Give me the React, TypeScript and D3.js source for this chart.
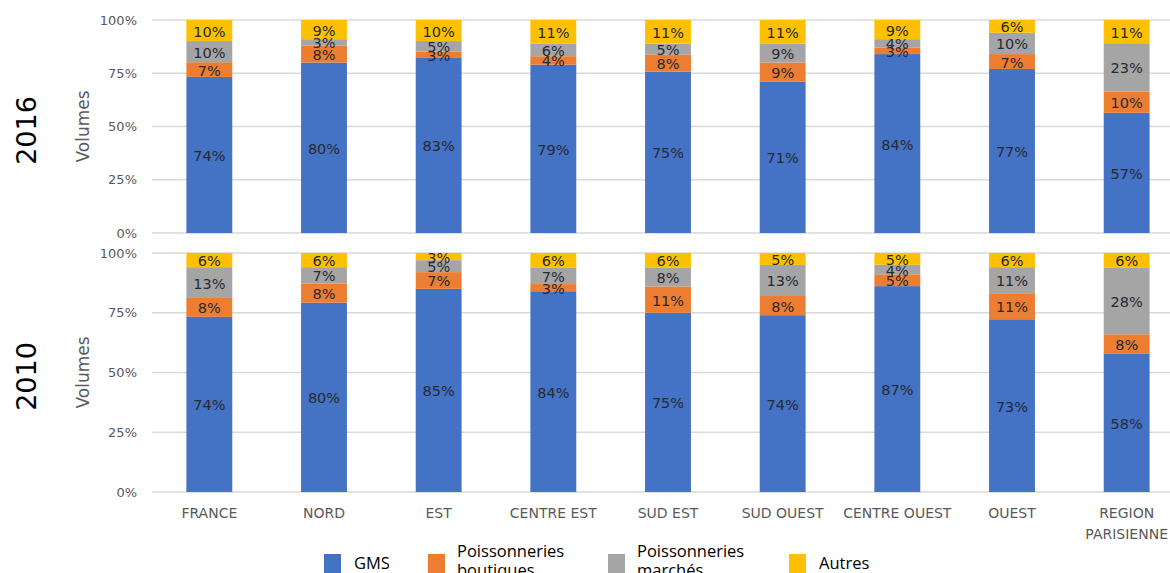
import React from "react";
import * as d3 from "d3";

const categories = ["FRANCE", "NORD", "EST", "CENTRE EST", "SUD EST", "SUD OUEST", "CENTRE OUEST", "OUEST", "REGION PARISIENNE"];
const seriesNames = ["GMS", "Poissonneries boutiques", "Poissonneries marchés", "Autres"];
const seriesColors = ["#4472C4", "#ED7D31", "#A5A5A5", "#FFC000"];

const gms2016 = [74, 80, 83, 79, 75, 71, 84, 77, 57];
const boutiques2016 = [7, 8, 3, 4, 8, 9, 3, 7, 10];
const marches2016 = [10, 3, 5, 6, 5, 9, 4, 10, 23];
const autres2016 = [10, 9, 10, 11, 11, 11, 9, 6, 11];

const gms2010 = [74, 80, 85, 84, 75, 74, 87, 73, 58];
const boutiques2010 = [8, 8, 7, 3, 11, 8, 5, 11, 8];
const marches2010 = [13, 7, 5, 7, 8, 13, 4, 11, 28];
const autres2010 = [6, 6, 3, 6, 6, 5, 5, 6, 6];

const yTicks = [0, 0.25, 0.5, 0.75, 1];

const W = 1170;
const H = 573;
const axisFont = "'DejaVu Sans', sans-serif";

type Row = { cat: string; [k: string]: number | string };

function buildRows(a: number[], b: number[], c: number[], d: number[]): Row[] {
  return categories.map((cat, i) => ({ cat, s0: a[i], s1: b[i], s2: c[i], s3: d[i] }));
}

const x = d3.scaleBand<string>().domain(categories).range([152, 1184]).paddingInner(0.6).paddingOuter(0.3);

function Panel({ rows, top, bottom, year }: { rows: Row[]; top: number; bottom: number; year: string }) {
  const y = d3.scaleLinear().domain([0, 1]).range([bottom, top]);
  const keys = ["s0", "s1", "s2", "s3"];
  const stacked = d3.stack<Row>().keys(keys).value((r, k) => r[k] as number).offset(d3.stackOffsetExpand)(rows);
  const mid = (top + bottom) / 2;
  return (
    <g>
      {yTicks.map((t) => (
        <g key={t}>
          <line x1={152} x2={1184} y1={y(t)} y2={y(t)} stroke="#D9D9D9" strokeWidth={1.5} />
          <text x={137} y={y(t)} textAnchor="end" dominantBaseline="central" fontFamily={axisFont} fontSize={13} fill="#595959">
            {d3.format(".0%")(t)}
          </text>
        </g>
      ))}
      {stacked.map((layer, li) => (
        <g key={li}>
          {layer.map((seg, i) => {
            const cat = rows[i].cat;
            const y0 = y(seg[0]);
            const y1 = y(seg[1]);
            return <rect key={cat} x={x(cat)} width={x.bandwidth()} y={y1} height={y0 - y1} fill={seriesColors[li]} />;
          })}
        </g>
      ))}
      {stacked.map((layer, li) => (
        <g key={"l" + li}>
          {layer.map((seg, i) => {
            const cat = rows[i].cat;
            const cy = (y(seg[0]) + y(seg[1])) / 2;
            return (
              <text key={cat} x={(x(cat) as number) + x.bandwidth() / 2} y={cy + 1} textAnchor="middle" dominantBaseline="central" fontFamily={axisFont} fontSize={14.5} fill="#262a33">
                {rows[i][keys[li]] + "%"}
              </text>
            );
          })}
        </g>
      ))}
      <text transform={`translate(89,${mid}) rotate(-90)`} textAnchor="middle" fontFamily={axisFont} fontSize={17} fill="#595959">
        Volumes
      </text>
      <text transform={`translate(36,${mid + 4}) rotate(-90)`} textAnchor="middle" fontFamily={axisFont} fontSize={27} fill="#000">
        {year}
      </text>
    </g>
  );
}

export default function App() {
  const rows2016 = buildRows(gms2016, boutiques2016, marches2016, autres2016);
  const rows2010 = buildRows(gms2010, boutiques2010, marches2010, autres2010);
  const legendX = [324, 428, 608, 789];
  const legendFont = "'Open Sans', sans-serif";
  return (
    <svg width={W} height={H} style={{ position: "absolute", left: 0, top: 0, background: "#fff" }}>
      <rect width={W} height={H} fill="#fff" />
      <Panel rows={rows2016} top={20} bottom={233} year="2016" />
      <Panel rows={rows2010} top={253} bottom={492} year="2010" />
      {categories.map((c) => {
        const cx = (x(c) as number) + x.bandwidth() / 2;
        const parts = c === "REGION PARISIENNE" ? ["REGION", "PARISIENNE"] : [c];
        return (
          <text key={c} textAnchor="middle" fontFamily={axisFont} fontSize={14} fill="#595959">
            {parts.map((p, i) => (
              <tspan key={p} x={cx} y={518 + i * 21}>
                {p}
              </tspan>
            ))}
          </text>
        );
      })}
      {seriesNames.map((name, i) => {
        const lx = legendX[i];
        const words = name.split(" ");
        return (
          <g key={name}>
            <rect x={lx} y={554} width={17} height={20} fill={seriesColors[i]} />
            {words.length === 1 ? (
              <text x={lx + 30} y={569} fontFamily={legendFont} fontSize={16.5} fill="#000">
                {name}
              </text>
            ) : (
              <text fontFamily={legendFont} fontSize={16.5} fill="#000">
                {words.map((w, j) => (
                  <tspan key={w} x={lx + 29} y={557 + j * 19}>
                    {w}
                  </tspan>
                ))}
              </text>
            )}
          </g>
        );
      })}
    </svg>
  );
}
